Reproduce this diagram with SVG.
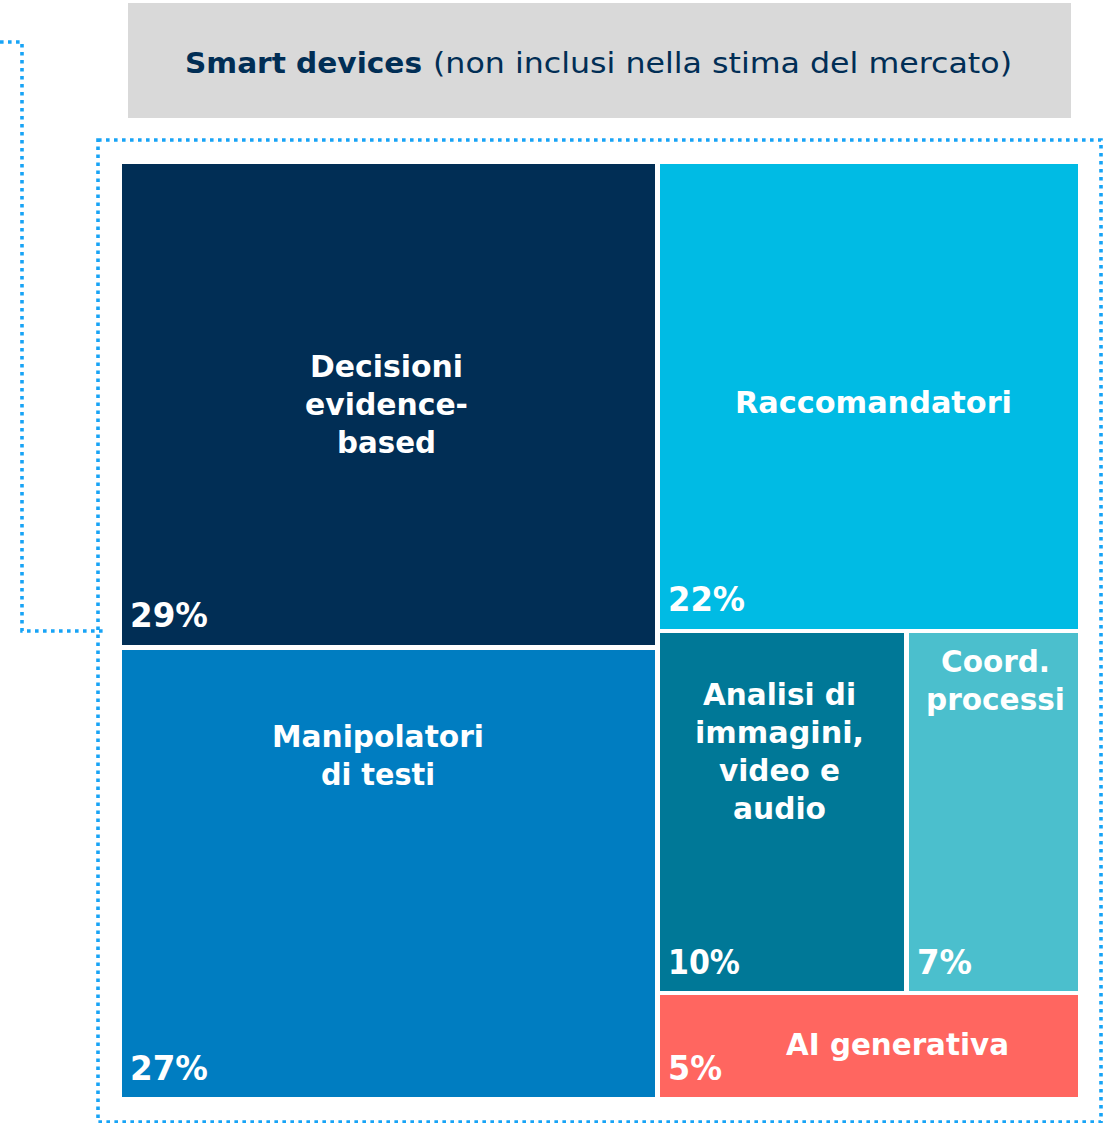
<svg xmlns="http://www.w3.org/2000/svg" width="1110" height="1123" viewBox="0 0 1110 1123">
<style>
.dot{fill:none;stroke:#18a4f6;stroke-width:3.6;stroke-dasharray:3.6 4.4}
.lbl{font-family:"DejaVu Sans","Open Sans",sans-serif;font-weight:700;font-size:30px;fill:#fff}
.pc{font-size:34px}
.c{text-anchor:middle}
.hd{font-family:"DejaVu Sans","Open Sans",sans-serif;font-size:29px;fill:#012e55}
</style>
<rect width="1110" height="1123" fill="#fff"/>
<g id="connectors">
<path class="dot" d="M0,42 H22 V631 H105"/>
<rect class="dot" x="98" y="140" width="1003" height="982"/>
</g>
<g id="header">
<rect x="128" y="3" width="943" height="115" fill="#d9d9d9"/>
<text class="hd" x="185" y="73" font-weight="700" textLength="237" lengthAdjust="spacingAndGlyphs">Smart devices</text>
<text class="hd" x="433" y="73" textLength="579" lengthAdjust="spacingAndGlyphs">(non inclusi nella stima del mercato)</text>
</g>
<g id="decisioni">
<rect x="122" y="164" width="533" height="481" fill="#012e55"/>
<text class="lbl c" x="386.5" y="377" textLength="153" lengthAdjust="spacingAndGlyphs">Decisioni</text>
<text class="lbl c" x="386.5" y="415" textLength="163" lengthAdjust="spacingAndGlyphs">evidence-</text>
<text class="lbl c" x="386.5" y="453" textLength="99" lengthAdjust="spacingAndGlyphs">based</text>
<text class="lbl pc" x="130" y="627" textLength="78" lengthAdjust="spacingAndGlyphs">29%</text>
</g>
<g id="raccomandatori">
<rect x="660" y="164" width="418" height="465" fill="#00bbe4"/>
<text class="lbl c" x="873.5" y="413" textLength="277" lengthAdjust="spacingAndGlyphs">Raccomandatori</text>
<text class="lbl pc" x="668" y="611" textLength="77" lengthAdjust="spacingAndGlyphs">22%</text>
</g>
<g id="manipolatori">
<rect x="122" y="650" width="533" height="447" fill="#007dc1"/>
<text class="lbl c" x="378" y="747" textLength="212" lengthAdjust="spacingAndGlyphs">Manipolatori</text>
<text class="lbl c" x="378" y="785" textLength="114" lengthAdjust="spacingAndGlyphs">di testi</text>
<text class="lbl pc" x="130" y="1080" textLength="78" lengthAdjust="spacingAndGlyphs">27%</text>
</g>
<g id="analisi">
<rect x="660" y="633" width="244" height="358" fill="#007897"/>
<text class="lbl c" x="779.5" y="705" textLength="153" lengthAdjust="spacingAndGlyphs">Analisi di</text>
<text class="lbl c" x="779.5" y="743" textLength="169" lengthAdjust="spacingAndGlyphs">immagini,</text>
<text class="lbl c" x="779.5" y="781" textLength="121" lengthAdjust="spacingAndGlyphs">video e</text>
<text class="lbl c" x="779.5" y="819" textLength="93" lengthAdjust="spacingAndGlyphs">audio</text>
<text class="lbl pc" x="668" y="974" textLength="72" lengthAdjust="spacingAndGlyphs">10%</text>
</g>
<g id="coord">
<rect x="909" y="633" width="169" height="358" fill="#4bbfcd"/>
<text class="lbl c" x="995.5" y="672" textLength="109" lengthAdjust="spacingAndGlyphs">Coord.</text>
<text class="lbl c" x="995.5" y="710" textLength="139" lengthAdjust="spacingAndGlyphs">processi</text>
<text class="lbl pc" x="917" y="974" textLength="55" lengthAdjust="spacingAndGlyphs">7%</text>
</g>
<g id="ai">
<rect x="660" y="995" width="418" height="102" fill="#ff6660"/>
<text class="lbl c" x="897.5" y="1055" textLength="223" lengthAdjust="spacingAndGlyphs">AI generativa</text>
<text class="lbl pc" x="668" y="1080" textLength="54" lengthAdjust="spacingAndGlyphs">5%</text>
</g>
</svg>
